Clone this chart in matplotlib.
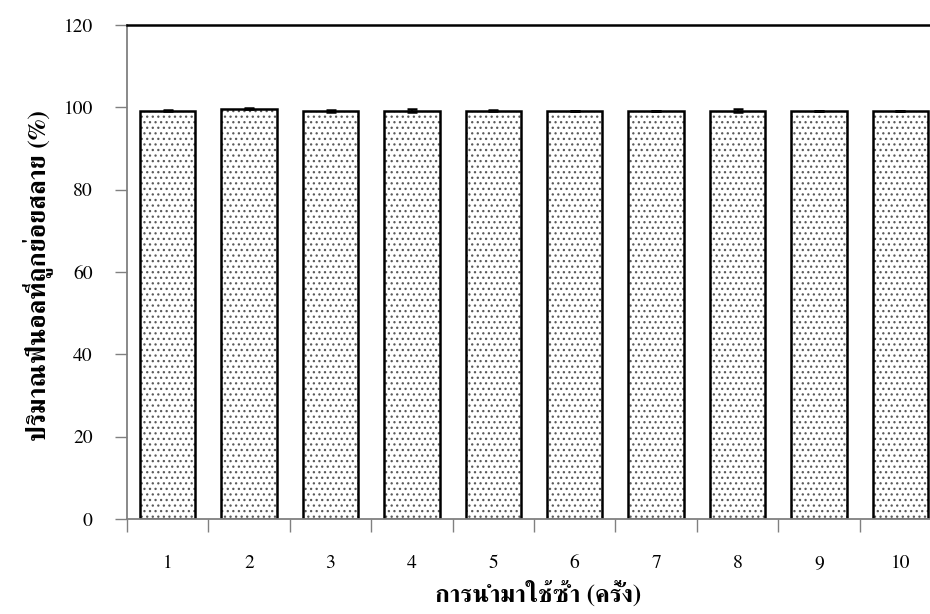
import matplotlib
matplotlib.use("Agg")
import matplotlib.pyplot as plt
import numpy as np

# data: reuse cycles and phenol degraded (%)
cycles = ["1", "2", "3", "4", "5", "6", "7", "8", "9", "10"]
degraded = [99.2, 99.7, 99.1, 99.2, 99.2, 99.1, 99.1, 99.2, 99.1, 99.1]
err = [0.1, 0.05, 0.35, 0.35, 0.1, 0.1, 0.1, 0.35, 0.1, 0.1]

ylabel = "ปริมาณฟีนอลที่ถูกย่อยสลาย (%)"
xlabel = "การนำมาใช้ซ้ำ (ครั้ง)"

plt.rcParams["font.family"] = ["FreeSerif", "DejaVu Serif"]
plt.rcParams["hatch.linewidth"] = 0.9

fig = plt.figure(figsize=(9.3, 6.14), dpi=100)
# axes runs a little past the right edge, like the cropped original
ax = fig.add_axes([127 / 930, 1 - 519 / 614, 814 / 930, 494 / 614])

x = np.arange(len(cycles))
# hatch layer, then the black outline on top
ax.bar(x, degraded, width=0.68, color="white", edgecolor="#5a5a5a",
       hatch="...", linewidth=0)
ax.bar(x, degraded, width=0.68, fill=False, edgecolor="black", linewidth=1.8,
       yerr=err, error_kw=dict(ecolor="black", elinewidth=1.2, capsize=3.6, capthick=1.8))

ax.set_xlim(-0.5, len(cycles) - 0.5)
ax.set_ylim(0, 120)
ax.set_yticks(range(0, 121, 20))

# tick marks sit between categories, labels at the centres
ax.set_xticks(np.arange(-0.5, len(cycles), 1.0))
ax.set_xticklabels([])
ax.set_xticks(x, minor=True)
ax.set_xticklabels(cycles, minor=True)
ax.tick_params(axis="x", which="major", direction="out", length=9, width=1, color="#808080")
ax.tick_params(axis="x", which="minor", length=0, pad=25.5, labelsize=14)
ax.tick_params(axis="y", direction="out", length=8.6, width=1, color="#808080",
               pad=16, labelsize=14)

for s in ["left", "bottom"]:
    ax.spines[s].set_color("#808080")
    ax.spines[s].set_linewidth(1.3)
ax.spines["top"].set_color("black")
ax.spines["top"].set_linewidth(1.8)
ax.spines["right"].set_visible(False)

fig.text(38 / 930, 1 - 276 / 614, ylabel, fontsize=18.5, fontweight="bold",
         rotation=90, ha="center", va="center")
fig.text(538 / 930, 1 - 594 / 614, xlabel, fontsize=18, fontweight="bold",
         ha="center", va="center")

fig.savefig("out.png")
